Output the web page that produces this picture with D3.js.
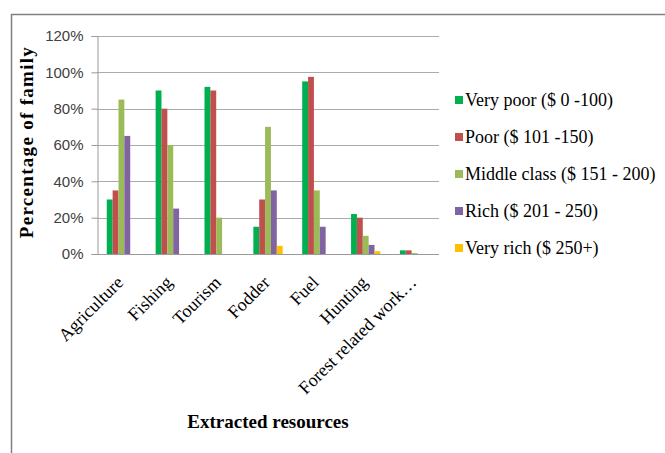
<!DOCTYPE html>
<html>
<head>
<meta charset="utf-8">
<script src="https://cdn.jsdelivr.net/npm/d3@7"></script>
<style>
  html, body { margin: 0; padding: 0; background: #fff; }
  svg { display: block; }
</style>
</head>
<body>
<svg id="chart" width="665" height="453"></svg>
<script>
// Resources extracted by families, by income class
const categories = ["Agriculture", "Fishing", "Tourism", "Fodder", "Fuel", "Hunting", "Forest related work…"];
const seriesNames = ["Very poor ($ 0 -100)", "Poor ($ 101 -150)", "Middle class ($ 151 - 200)", "Rich ($ 201 - 250)", "Very rich ($ 250+)"];
const veryPoor = [30, 90, 92, 15, 95, 22, 2];
const poor     = [35, 80, 90, 30, 97.5, 20, 2];
const middle   = [85, 60, 20, 70, 35, 10, 0.5];
const rich     = [65, 25, 0, 35, 15, 5, 0];
const veryRich = [0, 0, 0, 4.5, 0, 1.5, 0];
const yTicks = [0, 20, 40, 60, 80, 100, 120];
const colors = ["#00B050", "#C0504D", "#9BBB59", "#8064A2", "#FFC000"];

const seriesValues = [veryPoor, poor, middle, rich, veryRich];
const serif = "'Liberation Serif', 'Times New Roman', serif";

const svg = d3.select("#chart");

// outer frame (top and left edges visible)
svg.append("path")
  .attr("d", "M11.5,453 L11.5,14.5 L665,14.5")
  .attr("fill", "none").attr("stroke", "#808080").attr("stroke-width", 1.5);

const plot = { left: 97, right: 439, top: 36, bottom: 254 };

const x0 = d3.scaleBand().domain(categories).range([plot.left, plot.right]).paddingInner(0.4).paddingOuter(0.2);
const x1 = d3.scaleBand().domain(seriesNames).range([0, x0.bandwidth()]);
const y = d3.scaleLinear().domain([0, 120]).range([plot.bottom, plot.top]);

// gridlines
svg.append("g").selectAll("line").data(yTicks.filter(t => t > 0)).join("line")
  .attr("x1", plot.left).attr("x2", plot.right)
  .attr("y1", d => Math.round(y(d)) + 0.5).attr("y2", d => Math.round(y(d)) + 0.5)
  .attr("stroke", "#ababab").attr("stroke-width", 1);

// bars
const groups = svg.append("g").selectAll("g").data(categories).join("g")
  .attr("transform", d => `translate(${x0(d)},0)`);
groups.selectAll("rect")
  .data((c, i) => seriesNames.map((s, k) => ({ s, k, v: seriesValues[k][i] })))
  .join("rect")
  .attr("x", d => x1(d.s))
  .attr("width", x1.bandwidth())
  .attr("y", d => y(d.v))
  .attr("height", d => y(0) - y(d.v))
  .attr("fill", d => colors[d.k]);

// y axis
const yAxis = d3.axisLeft(y).tickValues(yTicks).tickFormat(d => d + "%").tickSize(6).tickPadding(8);
const gy = svg.append("g").attr("transform", `translate(${plot.left + 0.5},0)`).call(yAxis);
gy.select(".domain").attr("stroke", "#9a9a9a");
gy.selectAll(".tick line").attr("stroke", "#9a9a9a");
gy.selectAll(".tick text")
  .attr("fill", "#404040")
  .style("font-family", "'Liberation Sans', Arial, sans-serif")
  .style("font-size", "15px");

// x axis baseline with rotated category labels
const xAxis = d3.axisBottom(x0).tickSize(0).tickPadding(0);
const gx = svg.append("g").attr("transform", `translate(0,${plot.bottom + 0.5})`).call(xAxis);
gx.select(".domain").attr("stroke", "#9a9a9a").attr("d", `M${plot.left},0H${plot.right}`);
gx.selectAll(".tick text")
  .attr("fill", "#000")
  .attr("text-anchor", "end")
  .attr("dy", "0")
  .attr("transform", "translate(3,29) rotate(-45)")
  .style("font-family", serif)
  .style("font-size", "18px");

// axis titles
svg.append("text")
  .attr("transform", "translate(33,142) rotate(-90)")
  .attr("text-anchor", "middle")
  .style("font-family", serif)
  .style("font-size", "19px").style("font-weight", "bold")
  .style("letter-spacing", "1.3px")
  .text("Percentage of family");

svg.append("text")
  .attr("x", 268).attr("y", 428)
  .attr("text-anchor", "middle")
  .style("font-family", serif)
  .style("font-size", "19px").style("font-weight", "bold")
  .text("Extracted resources");

// legend
const legend = svg.append("g").selectAll("g").data(seriesNames).join("g")
  .attr("transform", (d, i) => `translate(455,${100 + i * 37})`);
legend.append("rect").attr("x", 0).attr("y", -4).attr("width", 8).attr("height", 8)
  .attr("fill", (d, i) => colors[i]);
legend.append("text").attr("x", 10).attr("y", 0).attr("dy", "0.35em")
  .style("font-family", serif)
  .style("font-size", "18px")
  .text(d => d);
</script>
</body>
</html>
